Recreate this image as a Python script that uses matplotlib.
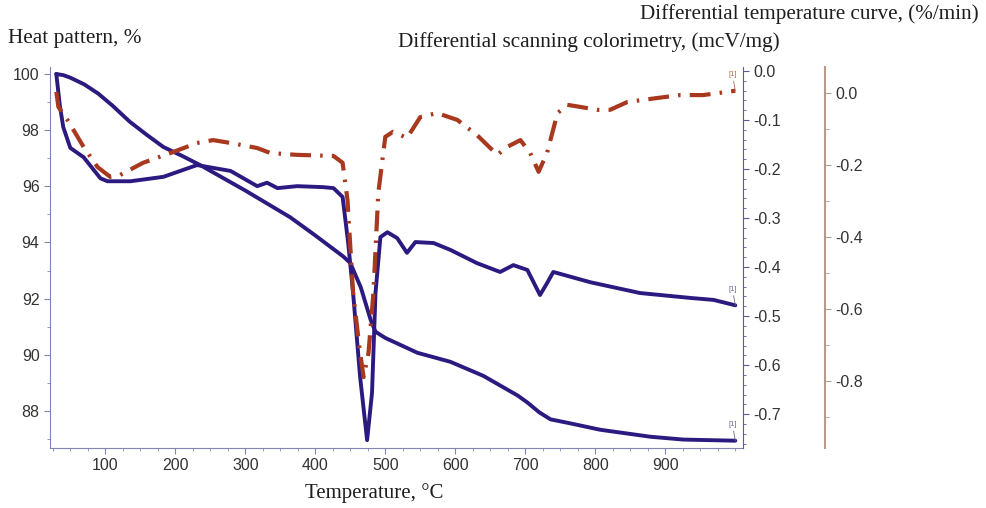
import numpy as np
import matplotlib.pyplot as plt
from matplotlib.ticker import MultipleLocator

# thermogravimetry (heat pattern, %)
t_tg = [30, 40, 50, 70, 90, 110, 135, 160, 183, 210, 236, 300, 364, 400, 440, 450,
        465, 479, 486, 500, 546, 593, 640, 689, 703, 720, 736, 760, 807, 879, 926, 1000]
tg = [100.0, 99.96, 99.87, 99.63, 99.3, 98.88, 98.3, 97.82, 97.4, 97.08, 96.75, 95.85,
      94.9, 94.25, 93.5, 93.27, 92.4, 91.25, 90.82, 90.6, 90.07, 89.75, 89.25, 88.55,
      88.3, 87.95, 87.7, 87.58, 87.33, 87.08, 86.98, 86.94]

# DSC, mcV/mg
t_dsc = [30, 35, 40, 50, 69, 93, 103, 136, 183, 231, 279, 317, 331, 346, 374, 411,
         426, 439, 447, 454, 464, 474, 481, 486, 493, 503, 517, 531, 543, 569, 593,
         631, 664, 683, 703, 721, 731, 740, 793, 864, 936, 969, 1000]
dsc = [-0.006, -0.07, -0.115, -0.157, -0.176, -0.219, -0.225, -0.225, -0.216, -0.192,
       -0.204, -0.235, -0.228, -0.239, -0.235, -0.237, -0.239, -0.257, -0.351, -0.453,
       -0.624, -0.753, -0.657, -0.453, -0.339, -0.329, -0.341, -0.371, -0.349, -0.351,
       -0.365, -0.392, -0.410, -0.396, -0.406, -0.457, -0.433, -0.410, -0.431, -0.453,
       -0.463, -0.467, -0.478]

# DTG, %/min
t_dtg = [30, 33, 46, 69, 89, 107, 121, 154, 193, 231, 254, 279, 317, 336, 374, 426,
         439, 446, 454, 464, 469, 476, 483, 490, 500, 511, 531, 550, 574, 603, 631,
         660, 674, 693, 707, 719, 731, 746, 760, 779, 803, 821, 846, 889, 921, 954, 1000]
dtg = [0.003, -0.039, -0.075, -0.15, -0.206, -0.233, -0.228, -0.194, -0.167, -0.139,
       -0.131, -0.139, -0.153, -0.167, -0.172, -0.175, -0.194, -0.297, -0.556, -0.722,
       -0.789, -0.722, -0.556, -0.278, -0.122, -0.108, -0.125, -0.067, -0.056, -0.075,
       -0.117, -0.172, -0.150, -0.131, -0.167, -0.219, -0.167, -0.056, -0.033, -0.039,
       -0.047, -0.047, -0.025, -0.014, -0.006, -0.006, 0.006]

navy = '#2c1a80'
brick = '#a8391e'
axcol = '#8484b4'
tan = '#b89a8c'
serif = 'Liberation Serif'
plt.rcParams['font.family'] = 'Liberation Sans'

fig = plt.figure(figsize=(9.87, 5.08), dpi=100)
ax = fig.add_axes([50/987, 60/508, 693/987, 381/508])
ax2 = ax.twinx()
ax3 = ax.twinx()

ax.plot(t_tg, tg, color=navy, lw=2.8, solid_capstyle='round', solid_joinstyle='round')
ax2.plot(t_dsc, dsc, color=navy, lw=2.8, solid_capstyle='round', solid_joinstyle='round')
ax3.plot(t_dtg, dtg, color=brick, lw=3.0, linestyle=(0, (5, 2.2, 0.6, 2.2)))

ax.set_xlim(21, 1011)
ax.set_ylim(86.68, 100.25)
ax2.set_ylim(-0.769, 0.008)
ax3.set_ylim(-0.986, 0.072)

ax.xaxis.set_minor_locator(MultipleLocator(25))
ax.set_xticks(range(100, 1000, 100))
ax.yaxis.set_major_locator(MultipleLocator(2))
ax.yaxis.set_minor_locator(MultipleLocator(1))
ax2.yaxis.set_minor_locator(MultipleLocator(0.02))
ax3.yaxis.set_minor_locator(MultipleLocator(0.1))
ax2.set_yticks(np.round(np.arange(0, -0.75, -0.1), 1))
ax3.set_yticks(np.round(np.arange(0, -0.85, -0.2), 1))
ax2.yaxis.set_major_formatter(lambda v, p: f'{v:.1f}')
ax3.yaxis.set_major_formatter(lambda v, p: f'{v:.1f}')

for a in (ax, ax2, ax3):
    a.spines['top'].set_visible(False)
ax.spines['right'].set_visible(False)
for a in (ax2, ax3):
    a.spines['left'].set_visible(False)
    a.spines['bottom'].set_visible(False)
ax.spines['left'].set_color(axcol)
ax.spines['bottom'].set_color(axcol)
ax2.spines['right'].set_color('#5a5aa0')
ax3.spines['right'].set_position(('outward', 59))
ax3.spines['right'].set_color(tan)
ax3.spines['right'].set_linewidth(1.5)

ax.tick_params(which='both', colors=axcol, labelcolor='#333333', labelsize=11.5)
ax.tick_params(which='major', length=4)
ax.tick_params(which='minor', length=2.5)
ax2.tick_params(which='both', colors='#5a5aa0', labelcolor='#333333', labelsize=11.5)
ax2.tick_params(which='major', length=4)
ax2.tick_params(which='minor', length=2)
ax3.tick_params(which='both', colors=tan, labelcolor='#333333', labelsize=11.5)
ax3.tick_params(which='major', length=4)
ax3.tick_params(which='minor', length=3)

# end markers
for a, xs, ys, c in ((ax, t_tg, tg, '#6a6a8a'), (ax2, t_dsc, dsc, '#6a6a8a'),
                     (ax3, t_dtg, dtg, '#b06a50')):
    a.annotate('[1]', xy=(xs[-1], ys[-1]), xytext=(-2, 9), textcoords='offset points',
               ha='center', va='bottom', fontsize=5.5, color=c,
               arrowprops=dict(arrowstyle='-', color=c, lw=0.6, shrinkA=0, shrinkB=0))

tc = '#1e1e1e'
fig.text(8/987, 1 - 38/508, 'Heat pattern, %', family=serif, fontsize=15.3, va='center', color=tc)
fig.text(979/987, 1 - 14/508, 'Differential temperature curve, (%/min)', family=serif,
         fontsize=15.2, va='center', ha='right', color=tc)
fig.text(398/987, 1 - 42/508, 'Differential scanning colorimetry, (mcV/mg)', family=serif,
         fontsize=15.3, va='center', color=tc)
fig.text(374/987, 1 - 493/508, 'Temperature, \u00b0C', family=serif, fontsize=15,
         va='center', ha='center', color=tc)

fig.savefig('out.png', dpi=100)
